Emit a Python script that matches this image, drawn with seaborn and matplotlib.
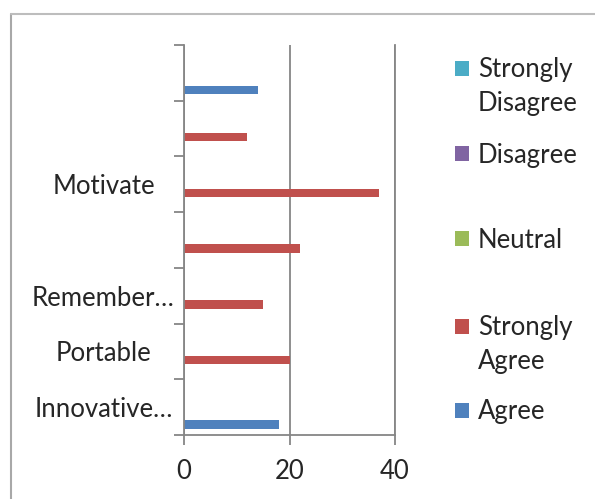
import numpy as np
import pandas as pd
import matplotlib.pyplot as plt
import seaborn as sns
from matplotlib.lines import Line2D
from matplotlib.patches import Patch
from matplotlib.ticker import FixedLocator

# categories listed bottom to top, like the original sheet
labels = ["Innovative…", "Portable", "Remember…", "", "Motivate", "", ""]
strongly_disagree = [0, 0, 0, 0, 0, 0, 0]
disagree = [0, 0, 0, 0, 0, 0, 0]
neutral = [0, 0, 0, 0, 0, 0, 0]
strongly_agree = [0, 20, 15, 22, 37, 12, 0]
agree = [18, 0, 0, 0, 0, 0, 14]

series = ["Strongly Disagree", "Disagree", "Neutral", "Strongly Agree", "Agree"]
colors = ["#4BACC6", "#8064A2", "#9BBB59", "#C0504D", "#4F81BD"]
x_ticks = [0, 20, 40]

rows = [f"r{i}" for i in range(len(labels))]
df = pd.DataFrame({
    "row": rows,
    "Strongly Disagree": strongly_disagree,
    "Disagree": disagree,
    "Neutral": neutral,
    "Strongly Agree": strongly_agree,
    "Agree": agree,
})
long = df.melt(id_vars="row", var_name="answer", value_name="count")

sns.set_theme(style="white")
plt.rcParams["font.family"] = ["Lato", "DejaVu Sans"]
grey = "#868686"
fs = 18.5

fig = plt.figure(figsize=(5.95, 4.99), dpi=100)
ax = fig.add_axes([184 / 595, 64 / 499, 211 / 595, 390 / 499])

sns.barplot(data=long, y="row", x="count", hue="answer", hue_order=series,
            order=rows[::-1], palette=colors, width=0.77, linewidth=0,
            saturation=1, errorbar=None, orient="y", legend=False, ax=ax)

ax.set_xlim(0, 40)
ax.set_xticks(x_ticks)
ax.set_ylim(len(rows) - 0.5, -0.5)
ax.set_yticks(range(len(rows)))
ax.set_yticklabels(labels[::-1], ha="center")
ax.yaxis.set_minor_locator(FixedLocator(np.arange(-0.5, len(rows), 1)))
ax.tick_params(axis="y", which="major", length=0, pad=58, labelsize=fs)
ax.tick_params(axis="y", which="minor", left=True, length=7, width=1.3,
               color=grey, direction="out")
ax.tick_params(axis="x", bottom=True, length=7, width=1.3, color=grey,
               direction="out", labelsize=fs, pad=10)
ax.set_xlabel("")
ax.set_ylabel("")

ax.grid(axis="x", color=grey, linewidth=1.3)
ax.set_axisbelow(True)
for side in ["left", "bottom", "right"]:
    ax.spines[side].set_color(grey)
    ax.spines[side].set_linewidth(1.3)
ax.spines["top"].set_visible(False)

# legend laid out row by row (Excel spreads the entries unevenly)
legend_rows = [
    ("Strongly", colors[0], 70),
    ("Disagree", None, 103),
    ("Disagree", colors[1], 155),
    ("Neutral", colors[2], 240),
    ("Strongly", colors[3], 328),
    ("Agree", None, 362),
    ("Agree", colors[4], 412),
]
for text, color, y in legend_rows:
    handle = Patch(facecolor=color if color else "none", edgecolor="none")
    fig.legend([handle], [text], loc="center left",
               bbox_to_anchor=(455 / 595, 1 - y / 499), frameon=False,
               fontsize=fs, handlelength=0.55, handleheight=0.55,
               handletextpad=0.35, borderpad=0, borderaxespad=0)

# chart area border (only left and top edges are visible)
fig.add_artist(Line2D([10.5 / 595, 10.5 / 595], [0, 1 - 14 / 499], color="#a8a8a8", lw=1.5))
fig.add_artist(Line2D([10.5 / 595, 1], [1 - 14 / 499, 1 - 14 / 499], color="#bdbdbd", lw=1.5))

fig.savefig("out.png", dpi=100)
